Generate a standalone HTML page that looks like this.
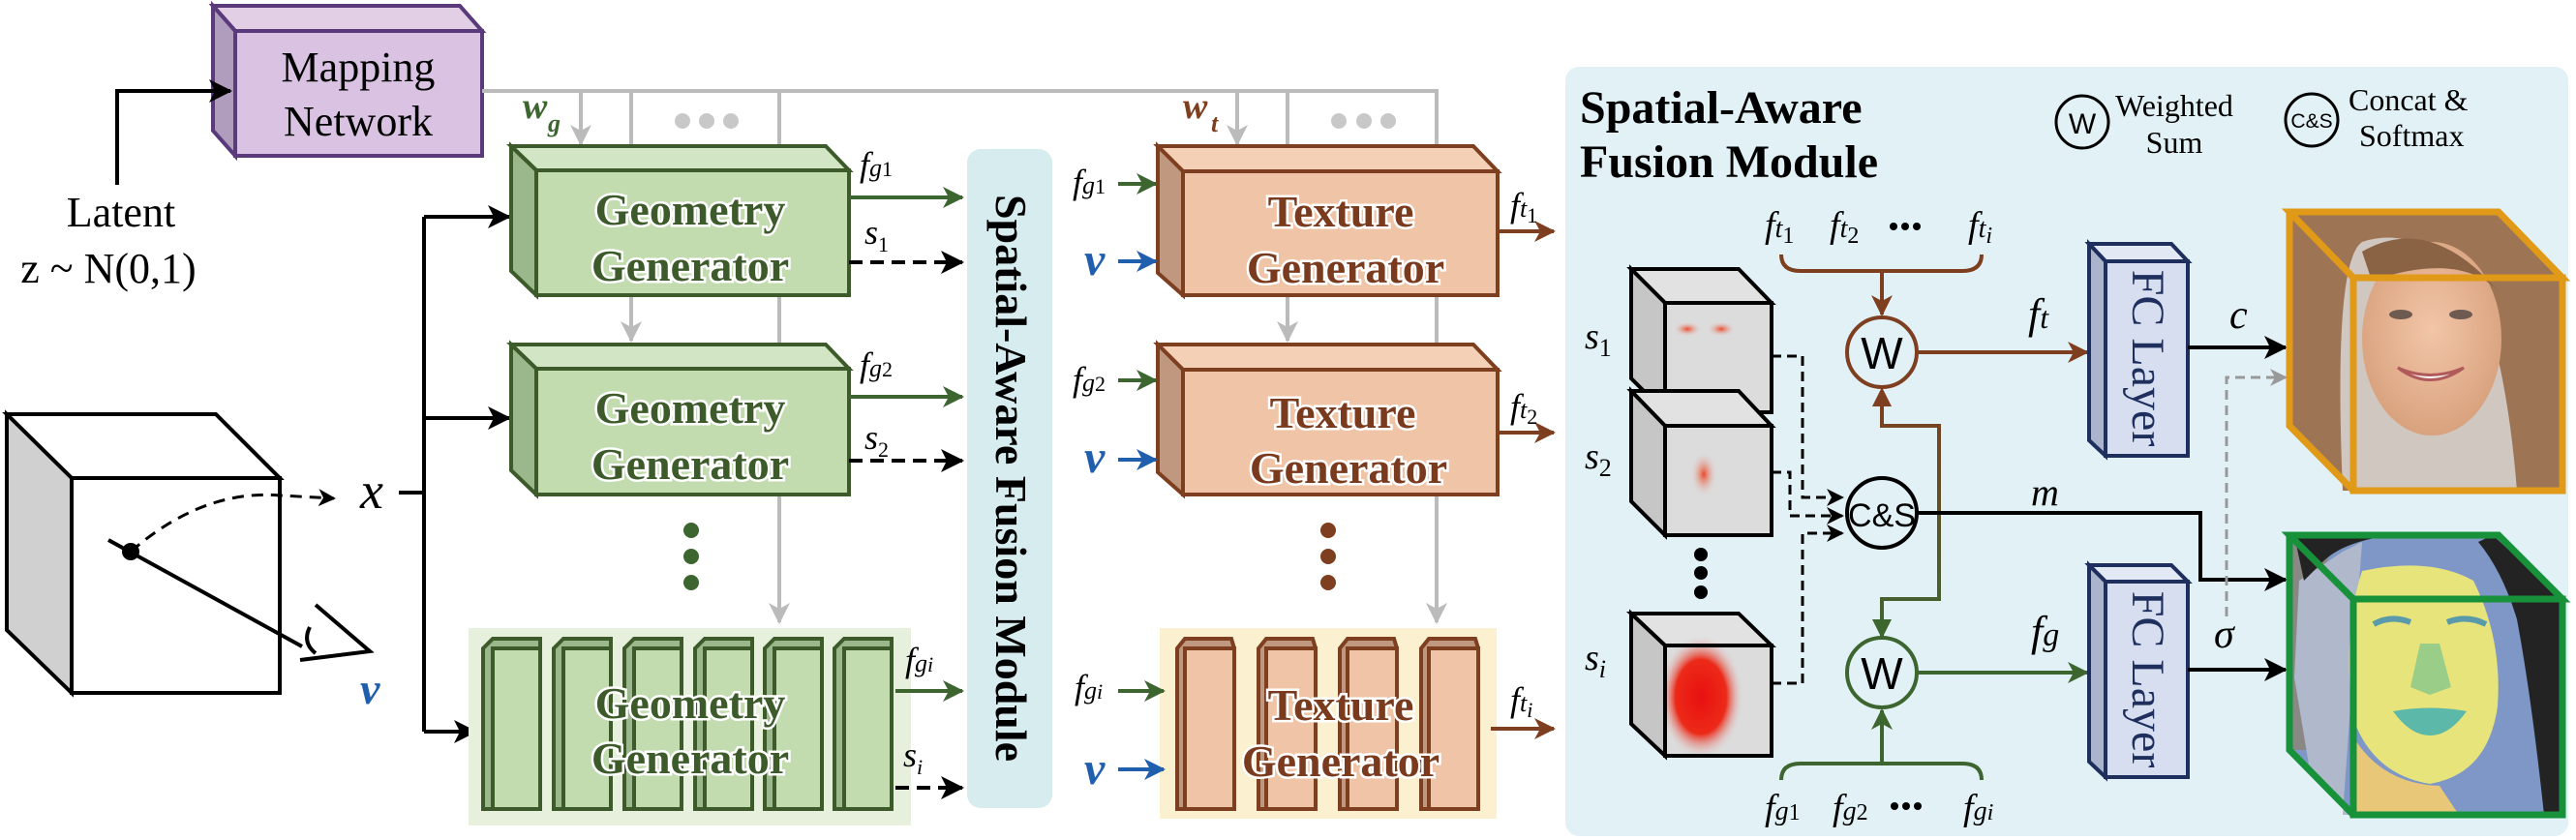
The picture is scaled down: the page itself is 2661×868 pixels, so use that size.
<!DOCTYPE html>
<html><head><meta charset="utf-8"><style>
html,body{margin:0;padding:0;background:#fff;}
svg{display:block;font-family:"Liberation Serif","DejaVu Serif",serif;}
svg text{font-family:"Liberation Serif","DejaVu Serif",serif;}
svg text.sans{font-family:"Liberation Sans","DejaVu Sans",sans-serif;}
.gt{font-weight:bold;font-size:46px;fill:#3c5a2a;stroke:#fff;stroke-width:5;paint-order:stroke;text-anchor:middle;}
.tt{font-weight:bold;font-size:46px;fill:#7a3a1e;stroke:#fff;stroke-width:5;paint-order:stroke;text-anchor:middle;}
.it{font-style:italic;}
</style></head><body>
<svg width="2661" height="868" viewBox="0 0 2661 868" xmlns="http://www.w3.org/2000/svg" font-family="Liberation Serif, serif">
<defs>
<marker id="ag" markerWidth="22" markerHeight="22" refX="20" refY="11" orient="auto" markerUnits="userSpaceOnUse"><path d="M0,0 L22,11 L0,22 L6,11z" fill="#3d6530"/></marker>
<marker id="ab" markerWidth="22" markerHeight="22" refX="20" refY="11" orient="auto" markerUnits="userSpaceOnUse"><path d="M0,0 L22,11 L0,22 L6,11z" fill="#1f5fae"/></marker>
<marker id="ar" markerWidth="22" markerHeight="22" refX="20" refY="11" orient="auto" markerUnits="userSpaceOnUse"><path d="M0,0 L22,11 L0,22 L6,11z" fill="#7e3e20"/></marker>
<marker id="abk" markerWidth="24" markerHeight="24" refX="22" refY="12" orient="auto" markerUnits="userSpaceOnUse"><path d="M0,0 L24,12 L0,24 L6,12z" fill="#000"/></marker>
<marker id="agr" markerWidth="22" markerHeight="22" refX="20" refY="11" orient="auto" markerUnits="userSpaceOnUse"><path d="M0,0 L22,11 L0,22 L6,11z" fill="#bbb"/></marker>
<marker id="agr2" markerWidth="18" markerHeight="18" refX="16" refY="9" orient="auto" markerUnits="userSpaceOnUse"><path d="M0,0 L18,9 L0,18 L5,9z" fill="#999"/></marker>
<marker id="ask" markerWidth="18" markerHeight="18" refX="16" refY="9" orient="auto" markerUnits="userSpaceOnUse"><path d="M0,0 L18,9 L0,18 L5,9z" fill="#000"/></marker>
<radialGradient id="red1" cx="50%" cy="50%" r="50%"><stop offset="0" stop-color="#e81010"/><stop offset="0.6" stop-color="#ec2a18"/><stop offset="1" stop-color="#ddd" stop-opacity="0"/></radialGradient>
<radialGradient id="red2" cx="50%" cy="50%" r="50%"><stop offset="0" stop-color="#ec4a2a"/><stop offset="1" stop-color="#ddd" stop-opacity="0"/></radialGradient>
<linearGradient id="bg" x1="0" y1="0" x2="0" y2="1"><stop offset="0" stop-color="#7e3e20"/><stop offset="1" stop-color="#3d6530"/></linearGradient>
<radialGradient id="skin" cx="50%" cy="45%" r="55%"><stop offset="0" stop-color="#f2c6a8"/><stop offset="1" stop-color="#d9a27e"/></radialGradient>
</defs>

<rect x="1617" y="69" width="1036" height="795" rx="14" fill="#e1f1f5"/>

<!-- Mapping network -->
<polygon points="220,6 475,6 498,32 243,32" fill="#e2cfe6" stroke="#5a3a7a" stroke-width="4"/>
<polygon points="220,6 243,32 243,161 220,135" fill="#b09cbc" stroke="#5a3a7a" stroke-width="4"/>
<rect x="243" y="32" width="255" height="129" fill="#d9c2e2" stroke="#5a3a7a" stroke-width="4"/>
<text x="370" y="84" font-size="44" text-anchor="middle">Mapping</text>
<text x="370" y="140" font-size="44" text-anchor="middle">Network</text>
<text x="125" y="234" font-size="44" text-anchor="middle">Latent</text>
<text x="112" y="292" font-size="44" text-anchor="middle">z ~ N(0,1)</text>
<polyline points="121,191 121,94 238,94" fill="none" stroke="#000" stroke-width="4" marker-end="url(#abk)"/>

<g stroke="#bbb" stroke-width="4" fill="none">
<line x1="498" y1="94" x2="1486" y2="94"/>
<line x1="600" y1="94" x2="600" y2="149" marker-end="url(#agr)"/>
<line x1="652" y1="94" x2="652" y2="352" marker-end="url(#agr)"/>
<line x1="805" y1="94" x2="805" y2="643" marker-end="url(#agr)"/>
<line x1="1278" y1="94" x2="1278" y2="149" marker-end="url(#agr)"/>
<line x1="1330" y1="94" x2="1330" y2="352" marker-end="url(#agr)"/>
<line x1="1484" y1="94" x2="1484" y2="643" marker-end="url(#agr)"/>
</g>
<g fill="#c8c8c8"><circle cx="705" cy="125" r="8"/><circle cx="730" cy="125" r="8"/><circle cx="755" cy="125" r="8"/>
<circle cx="1383" cy="125" r="8"/><circle cx="1409" cy="125" r="8"/><circle cx="1434" cy="125" r="8"/></g>
<text x="540" y="122" font-size="38" font-weight="bold" class="it" fill="#3d6530">w</text><text x="566" y="136" font-size="26" font-weight="bold" class="it" fill="#3d6530">g</text>
<text x="1222" y="122" font-size="38" font-weight="bold" class="it" fill="#7e3e20">w</text><text x="1251" y="136" font-size="26" font-weight="bold" class="it" fill="#7e3e20">t</text>

<!-- left cube -->
<polygon points="7,428 223,428 289,494 74,494" fill="#fff" stroke="#000" stroke-width="4"/>
<polygon points="7,428 74,494 74,716 7,651" fill="#d0d0d0" stroke="#000" stroke-width="4"/>
<rect x="74" y="494" width="215" height="222" fill="#fff" stroke="#000" stroke-width="4"/>
<path d="M135,570 Q210,505 290,512 L345,515" fill="none" stroke="#000" stroke-width="3" stroke-dasharray="12,8" marker-end="url(#ask)"/>
<line x1="112" y1="558" x2="312" y2="668" stroke="#000" stroke-width="4"/>
<circle cx="135" cy="570" r="9" fill="#000"/>
<path d="M326,625 L382,673 L310,682 M320,648 Q312,664 326,675" fill="none" stroke="#000" stroke-width="4"/>
<text x="372" y="727" font-size="46" font-weight="bold" class="it" fill="#1f5fae">v</text>
<text x="372" y="525" font-size="54" class="it">x</text>
<line x1="412" y1="509" x2="438" y2="509" stroke="#000" stroke-width="4"/>
<line x1="438" y1="224" x2="438" y2="756" stroke="#000" stroke-width="4"/>
<line x1="438" y1="224" x2="526" y2="224" stroke="#000" stroke-width="4" marker-end="url(#abk)"/>
<line x1="438" y1="432" x2="526" y2="432" stroke="#000" stroke-width="4" marker-end="url(#abk)"/>
<line x1="438" y1="756" x2="491" y2="756" stroke="#000" stroke-width="4" marker-end="url(#abk)"/>

<!-- Geometry generators -->
<g stroke="#3c5a2a" stroke-width="4">
<polygon points="528,151 853,151 877,176 554,176" fill="#d2e6c6"/>
<polygon points="528,151 554,176 554,305 528,280" fill="#9bb88c"/>
<rect x="554" y="176" width="323" height="129" fill="#c2dcb0"/>
<polygon points="528,356 853,356 877,381 554,381" fill="#d2e6c6"/>
<polygon points="528,356 554,381 554,511 528,486" fill="#9bb88c"/>
<rect x="554" y="381" width="323" height="130" fill="#c2dcb0"/>
</g>
<text class="gt" x="713" y="232">Geometry</text><text class="gt" x="713" y="290">Generator</text>
<text class="gt" x="713" y="437">Geometry</text><text class="gt" x="713" y="495">Generator</text>
<g fill="#3d6530"><circle cx="714" cy="548" r="8"/><circle cx="714" cy="575" r="8"/><circle cx="714" cy="602" r="8"/></g>
<rect x="484" y="649" width="457" height="204" fill="#e7f0dc"/>
<g stroke="#3c5a2a" stroke-width="4">
<g id="gs"><polygon points="499,670 509,660 558,660 558,836 499,836" fill="#9bb88c"/><rect x="509" y="670" width="49" height="166" fill="#c2dcb0"/></g>
<use href="#gs" x="73"/><use href="#gs" x="146"/><use href="#gs" x="219"/><use href="#gs" x="291"/><use href="#gs" x="363"/>
</g>
<text class="gt" x="713" y="742">Geometry</text><text class="gt" x="713" y="799">Generator</text>
<g stroke-width="4" fill="none">
<line x1="877" y1="204" x2="994" y2="204" stroke="#3d6530" marker-end="url(#ag)"/>
<line x1="877" y1="271" x2="994" y2="271" stroke="#000" stroke-dasharray="14,8" marker-end="url(#abk)"/>
<line x1="877" y1="410" x2="994" y2="410" stroke="#3d6530" marker-end="url(#ag)"/>
<line x1="877" y1="476" x2="994" y2="476" stroke="#000" stroke-dasharray="14,8" marker-end="url(#abk)"/>
<line x1="925" y1="714" x2="994" y2="714" stroke="#3d6530" marker-end="url(#ag)"/>
<line x1="925" y1="814" x2="994" y2="814" stroke="#000" stroke-dasharray="14,8" marker-end="url(#abk)"/>
</g>
<g font-size="36" class="it">
<text x="888" y="182">f<tspan font-size="26">g</tspan><tspan font-size="22" font-style="normal">1</tspan></text>
<text x="893" y="252">s<tspan font-size="22" font-style="normal" dy="8">1</tspan></text>
<text x="888" y="389">f<tspan font-size="26">g</tspan><tspan font-size="22" font-style="normal">2</tspan></text>
<text x="893" y="464">s<tspan font-size="22" font-style="normal" dy="8">2</tspan></text>
<text x="935" y="694">f<tspan font-size="26">g</tspan><tspan font-size="22">i</tspan></text>
<text x="933" y="792">s<tspan font-size="22" dy="8">i</tspan></text>
</g>

<!-- SAFM bar -->
<rect x="999" y="154" width="88" height="681" rx="14" fill="#d6ecef"/>
<text transform="translate(1029,494) rotate(90)" font-size="46" font-weight="bold" text-anchor="middle">Spatial-Aware Fusion Module</text>

<!-- Texture generators -->
<g stroke="#7e3e20" stroke-width="4">
<polygon points="1196,151 1522,151 1547,177 1222,177" fill="#f4d0b6"/>
<polygon points="1196,151 1222,177 1222,305 1196,282" fill="#c09880"/>
<rect x="1222" y="177" width="325" height="128" fill="#f0c4a6"/>
<polygon points="1196,356 1522,356 1547,382 1222,382" fill="#f4d0b6"/>
<polygon points="1196,356 1222,382 1222,511 1196,488" fill="#c09880"/>
<rect x="1222" y="382" width="325" height="129" fill="#f0c4a6"/>
</g>
<text class="tt" x="1385" y="234">Texture</text><text class="tt" x="1390" y="292">Generator</text>
<text class="tt" x="1387" y="442">Texture</text><text class="tt" x="1393" y="499">Generator</text>
<g fill="#7e3e20"><circle cx="1372" cy="548" r="8"/><circle cx="1372" cy="575" r="8"/><circle cx="1372" cy="602" r="8"/></g>
<rect x="1198" y="649" width="348" height="197" fill="#fbf0d0"/>
<g stroke="#7e3e20" stroke-width="4">
<g id="ts"><polygon points="1216,670 1224,660 1272,660 1275,670 1275,836 1216,836" fill="#c09880"/><rect x="1224" y="670" width="51" height="166" fill="#f0c4a6"/></g>
<use href="#ts" x="84"/><use href="#ts" x="168"/><use href="#ts" x="252"/>
</g>
<text class="tt" x="1385" y="744">Texture</text><text class="tt" x="1385" y="802">Generator</text>
<g stroke-width="4" fill="none">
<line x1="1155" y1="190" x2="1194" y2="190" stroke="#3d6530" marker-end="url(#ag)"/>
<line x1="1155" y1="270" x2="1194" y2="270" stroke="#1f5fae" marker-end="url(#ab)"/>
<line x1="1155" y1="393" x2="1194" y2="393" stroke="#3d6530" marker-end="url(#ag)"/>
<line x1="1155" y1="475" x2="1194" y2="475" stroke="#1f5fae" marker-end="url(#ab)"/>
<line x1="1155" y1="714" x2="1202" y2="714" stroke="#3d6530" marker-end="url(#ag)"/>
<line x1="1155" y1="795" x2="1202" y2="795" stroke="#1f5fae" marker-end="url(#ab)"/>
<line x1="1547" y1="239" x2="1605" y2="239" stroke="#7e3e20" marker-end="url(#ar)"/>
<line x1="1547" y1="447" x2="1605" y2="447" stroke="#7e3e20" marker-end="url(#ar)"/>
<line x1="1540" y1="753" x2="1605" y2="753" stroke="#7e3e20" marker-end="url(#ar)"/>
</g>
<g font-size="36" class="it">
<text x="1108" y="200">f<tspan font-size="26">g</tspan><tspan font-size="22" font-style="normal">1</tspan></text>
<text x="1108" y="404">f<tspan font-size="26">g</tspan><tspan font-size="22" font-style="normal">2</tspan></text>
<text x="1110" y="722">f<tspan font-size="26">g</tspan><tspan font-size="22">i</tspan></text>
<text x="1560" y="224">f<tspan font-size="26">t</tspan><tspan font-size="22" font-style="normal" dy="6">1</tspan></text>
<text x="1560" y="432">f<tspan font-size="26">t</tspan><tspan font-size="22" font-style="normal" dy="6">2</tspan></text>
<text x="1560" y="735">f<tspan font-size="26">t</tspan><tspan font-size="22" dy="6">i</tspan></text>
</g>
<g font-size="48" font-weight="bold" class="it" fill="#1f5fae">
<text x="1120" y="284">v</text><text x="1120" y="488">v</text><text x="1120" y="810">v</text>
</g>

<!-- Fusion panel contents -->
<text x="1632" y="127" font-size="48" font-weight="bold">Spatial-Aware</text>
<text x="1632" y="183" font-size="48" font-weight="bold">Fusion Module</text>
<circle cx="2151" cy="126" r="27" fill="none" stroke="#000" stroke-width="3"/>
<text class="sans" x="2151" y="138" font-size="30" text-anchor="middle">W</text>
<text x="2246" y="120" font-size="32" text-anchor="middle">Weighted</text>
<text x="2246" y="158" font-size="32" text-anchor="middle">Sum</text>
<circle cx="2388" cy="124" r="27" fill="none" stroke="#000" stroke-width="3"/>
<text class="sans" x="2388" y="132" font-size="21" text-anchor="middle">C&amp;S</text>
<text x="2426" y="114" font-size="32">Concat &amp;</text>
<text x="2437" y="151" font-size="32">Softmax</text>

<g font-size="38" class="it">
<text x="1823" y="245">f<tspan font-size="28">t</tspan><tspan font-size="24" font-style="normal" dy="6">1</tspan></text>
<text x="1890" y="245">f<tspan font-size="28">t</tspan><tspan font-size="24" font-style="normal" dy="6">2</tspan></text>
<text x="2033" y="245">f<tspan font-size="28">t</tspan><tspan font-size="24" dy="6">i</tspan></text>
<text x="1823" y="847">f<tspan font-size="28">g</tspan><tspan font-size="24" font-style="normal">1</tspan></text>
<text x="1893" y="847">f<tspan font-size="28">g</tspan><tspan font-size="24" font-style="normal">2</tspan></text>
<text x="2028" y="847">f<tspan font-size="28">g</tspan><tspan font-size="24">i</tspan></text>
<text x="2095" y="339" font-size="44">f<tspan font-size="32">t</tspan></text>
<text x="2098" y="667" font-size="44">f<tspan font-size="34">g</tspan></text>
<text x="2098" y="522" font-size="40">m</text>
<text x="2303" y="339" font-size="42">c</text>
<text x="2287" y="669" font-size="42">σ</text>
<text x="1637" y="360">s<tspan font-size="26" font-style="normal" dy="8">1</tspan></text>
<text x="1637" y="484">s<tspan font-size="26" font-style="normal" dy="8">2</tspan></text>
<text x="1637" y="692">s<tspan font-size="26" dy="8">i</tspan></text>
</g>
<g fill="#000"><circle cx="1956" cy="234" r="4"/><circle cx="1968" cy="234" r="4"/><circle cx="1980" cy="234" r="4"/>
<circle cx="1957" cy="833" r="4"/><circle cx="1969" cy="833" r="4"/><circle cx="1981" cy="833" r="4"/></g>
<path d="M1840,263 Q1840,280 1860,280 L2027,280 Q2047,280 2047,263" fill="none" stroke="#7e3e20" stroke-width="4"/>
<line x1="1944" y1="280" x2="1944" y2="325" stroke="#7e3e20" stroke-width="4" marker-end="url(#ar)"/>
<path d="M1840,806 Q1840,789 1860,789 L2027,789 Q2047,789 2047,806" fill="none" stroke="#3d6530" stroke-width="4"/>
<line x1="1944" y1="789" x2="1944" y2="734" stroke="#3d6530" stroke-width="4" marker-end="url(#ag)"/>

<g stroke="#000" stroke-width="4">
<polygon points="1685,278 1796,278 1830,313 1720,313" fill="#e2e2e2"/>
<polygon points="1685,278 1720,313 1720,426 1685,391" fill="#c6c6c6"/>
<rect x="1720" y="313" width="110" height="113" fill="#dcdcdc"/>
<polygon points="1685,404 1796,404 1830,440 1720,440" fill="#e2e2e2"/>
<polygon points="1685,404 1720,440 1720,553 1685,518" fill="#c6c6c6"/>
<rect x="1720" y="440" width="110" height="113" fill="#dcdcdc"/>
<polygon points="1685,634 1796,634 1830,667 1720,667" fill="#e2e2e2"/>
<polygon points="1685,634 1720,667 1720,781 1685,748" fill="#c6c6c6"/>
<rect x="1720" y="667" width="110" height="114" fill="#dcdcdc"/>
</g>
<ellipse cx="1743" cy="340" rx="15" ry="8" fill="url(#red2)"/><ellipse cx="1778" cy="340" rx="15" ry="8" fill="url(#red2)"/>
<ellipse cx="1760" cy="490" rx="14" ry="24" fill="url(#red2)"/>
<ellipse cx="1757" cy="720" rx="44" ry="64" fill="url(#red1)"/>
<rect x="1720" y="667" width="110" height="114" fill="none" stroke="#000" stroke-width="4"/>
<g fill="#000"><circle cx="1757" cy="573" r="7"/><circle cx="1757" cy="592" r="7"/><circle cx="1757" cy="612" r="7"/></g>
<g stroke="#000" stroke-width="3" fill="none" stroke-dasharray="10,6">
<polyline points="1830,368 1862,368 1862,514 1903,514" marker-end="url(#ask)"/>
<polyline points="1830,488 1849,488 1849,533 1903,533" marker-end="url(#ask)"/>
<polyline points="1830,706 1862,706 1862,551 1903,551" marker-end="url(#ask)"/>
</g>

<polyline points="1944,658 1944,619 2003,619 2003,440 1944,440 1944,405" fill="none" stroke="url(#bg)" stroke-width="4"/>
<path d="M1934,420 L1944,400 L1954,420z" fill="#7e3e20"/>
<path d="M1934,640 L1944,660 L1954,640z" fill="#3d6530"/>
<circle cx="1944" cy="364" r="36" fill="#e1f1f5" stroke="#7e3e20" stroke-width="4"/>
<text class="sans" x="1944" y="381" font-size="46" text-anchor="middle">W</text>
<circle cx="1944" cy="695" r="36" fill="#e1f1f5" stroke="#3d6530" stroke-width="4"/>
<text class="sans" x="1944" y="712" font-size="46" text-anchor="middle">W</text>
<polyline points="1981,530 2273,530 2273,599 2361,599" fill="none" stroke="#000" stroke-width="4" marker-end="url(#abk)"/>
<circle cx="1944" cy="530" r="36" fill="#e1f1f5" stroke="#000" stroke-width="4"/>
<text class="sans" x="1944" y="544" font-size="34" text-anchor="middle">C&amp;S</text>
<line x1="1981" y1="364" x2="2156" y2="364" stroke="#7e3e20" stroke-width="4" marker-end="url(#ar)"/>
<line x1="1981" y1="695" x2="2156" y2="695" stroke="#3d6530" stroke-width="4" marker-end="url(#ag)"/>

<g stroke="#1e2f5e" stroke-width="4">
<polygon points="2158,252 2243,252 2260,270 2175,270" fill="#e2e8f4"/>
<polygon points="2158,252 2175,270 2175,471 2158,455" fill="#aab4cc"/>
<rect x="2175" y="270" width="85" height="201" fill="#d6def0"/>
<polygon points="2158,584 2243,584 2260,601 2175,601" fill="#e2e8f4"/>
<polygon points="2158,584 2175,601 2175,803 2158,787" fill="#aab4cc"/>
<rect x="2175" y="601" width="85" height="202" fill="#d6def0"/>
</g>
<text transform="translate(2203,370) rotate(90)" font-size="48" text-anchor="middle" fill="#1e2f5e">FC Layer</text>
<text transform="translate(2203,702) rotate(90)" font-size="48" text-anchor="middle" fill="#1e2f5e">FC Layer</text>
<line x1="2260" y1="359" x2="2361" y2="359" stroke="#000" stroke-width="4" marker-end="url(#abk)"/>
<line x1="2260" y1="692" x2="2361" y2="692" stroke="#000" stroke-width="4" marker-end="url(#abk)"/>
<polyline points="2300,637 2300,390 2361,390" fill="none" stroke="#999" stroke-width="3" stroke-dasharray="10,6" marker-end="url(#agr2)"/>

<!-- face cube -->
<polygon points="2365,219 2581,219 2647,287 2647,507 2431,507 2365,440" fill="#cfc7c0"/>
<path d="M2365,219 L2581,219 L2647,287 L2647,507 L2600,507 Q2590,380 2560,300 Q2500,230 2440,250 Q2410,270 2420,507 L2431,507 L2365,440z" fill="#9d7454"/>
<ellipse cx="2512" cy="350" rx="72" ry="100" fill="url(#skin)"/>
<path d="M2440,260 Q2510,220 2580,300 Q2540,260 2450,290z" fill="#8a6244"/>
<ellipse cx="2480" cy="325" rx="12" ry="5" fill="#6d5a50"/><ellipse cx="2542" cy="325" rx="12" ry="5" fill="#6d5a50"/>
<path d="M2477,380 Q2510,405 2545,380 Q2510,395 2477,380z" fill="#fff" stroke="#b05a5a" stroke-width="3"/>
<polygon points="2365,219 2581,219 2647,287 2431,287" fill="none" stroke="#e09a18" stroke-width="7"/>
<polyline points="2365,219 2365,440 2431,507" fill="none" stroke="#e09a18" stroke-width="7"/>
<rect x="2431" y="287" width="216" height="220" fill="none" stroke="#e09a18" stroke-width="7"/>

<!-- seg cube -->
<polygon points="2365,553 2581,553 2647,619 2647,842 2431,842 2365,775" fill="#7f97c7"/>
<polygon points="2365,553 2410,553 2400,600 2380,700 2385,775 2365,775" fill="#8a8884"/>
<polygon points="2375,600 2420,570 2440,560 2420,842 2431,842 2385,790 2370,700" fill="#b0b8cc"/>
<path d="M2370,553 L2470,553 Q2420,560 2400,580 L2380,600z" fill="#232323"/>
<path d="M2575,553 L2647,619 L2647,842 L2628,842 Q2615,720 2600,640 Q2585,590 2560,560z" fill="#232323"/>
<path d="M2430,842 L2430,760 Q2460,810 2520,812 L2540,842z" fill="#e8c878"/>
<path d="M2440,590 Q2510,575 2555,600 Q2585,660 2580,730 Q2570,800 2510,810 Q2450,800 2430,740 Q2420,650 2440,590z" fill="#e6e47a"/>
<path d="M2452,645 Q2470,635 2490,643 M2528,643 Q2548,635 2568,645" stroke="#5a9aaa" stroke-width="6" fill="none"/>
<path d="M2500,665 L2520,665 L2532,710 L2510,718 L2490,710z" fill="#9acd88"/>
<path d="M2472,735 Q2510,728 2548,735 Q2530,760 2510,760 Q2490,760 2472,735z" fill="#5cb8a8"/>
<polygon points="2365,553 2581,553 2647,619 2431,619" fill="none" stroke="#18923a" stroke-width="7"/>
<polyline points="2365,553 2365,775 2431,842" fill="none" stroke="#18923a" stroke-width="7"/>
<rect x="2431" y="619" width="216" height="223" fill="none" stroke="#18923a" stroke-width="7"/>
</svg>
</body></html>
